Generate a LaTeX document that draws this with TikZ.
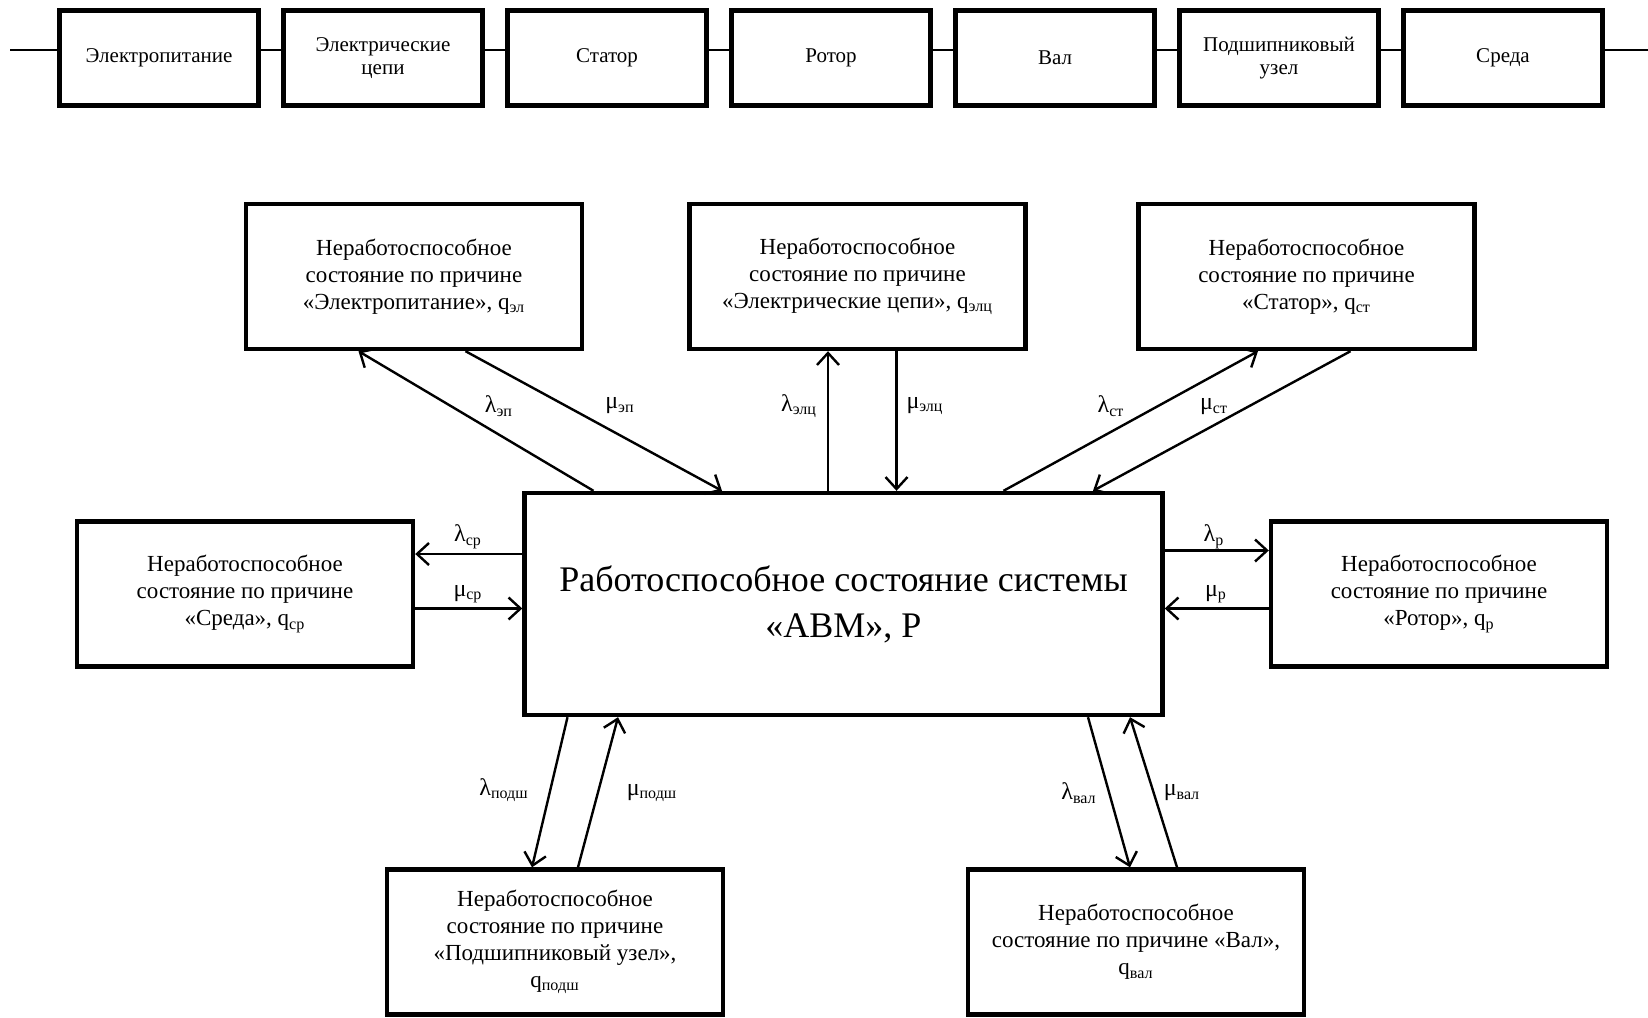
\documentclass[tikz,border=0pt]{standalone}
\usepackage{fontspec}
\setmainfont{Liberation Serif}
\usetikzlibrary{arrows.meta}
\usetikzlibrary{calc}

\begin{document}
\begin{tikzpicture}[x=0.5pt,y=-0.5pt, font=\fontsize{11.5}{13.4}\selectfont,
    part/.style={draw,line width=2.2pt,minimum width=99.5pt,minimum height=47.5pt,inner sep=0pt,align=center,font=\fontsize{10.5}{11.5}\selectfont},
    state/.style={draw,line width=2.2pt,minimum width=168pt,minimum height=72.5pt,inner sep=0pt,align=center},
    flow/.style={line width=1.2pt,-{Straight Barb[length=6pt,width=11pt]}},
    link/.style={line width=0.8pt},
    rate/.style={inner sep=0pt,font=\fontsize{12}{14}\selectfont}]
      \useasboundingbox (0,0) rectangle (1648,1017);

      \foreach \t [count=\i] in {Электропитание,Электрические\\цепи,Статор,Ротор,Вал,Подшипниковый\\узел,Среда}
        \node[part] (b\i) at (224*\i-65,58) {\t};
      \foreach \i [evaluate=\i as \j using int(\i+1)] in {1,...,6}
        \draw[link] ([yshift=4pt]b\i.east) -- ([yshift=4pt]b\j.west);
      \coordinate (feed) at (10,50);
      \coordinate (sink) at (1648,50);
      \draw[link] (feed) -- ([yshift=4pt]b1.west);
      \draw[link] ([yshift=4pt]b7.east) -- (sink);

      \node[state,minimum width=319pt,minimum height=111pt,font=\fontsize{18}{23}\selectfont] (avm) at (843.5,604) {Работоспособное состояние системы\\«АВМ», P};
      \node[state] (ep) at (414,276.5) {Неработоспособное\\состояние по причине\\«Электропитание», q\textsubscript{эл}};
      \node[state] (elc) at (857.5,276.5) {Неработоспособное\\состояние по причине\\«Электрические цепи», q\textsubscript{элц}};
      \node[state] (st) at (1306.5,276.5) {Неработоспособное\\состояние по причине\\«Статор», q\textsubscript{ст}};
      \node[state] (sr) at (245,594) {Неработоспособное\\состояние по причине\\«Среда», q\textsubscript{ср}};
      \node[state] (rt) at (1439,594) {Неработоспособное\\состояние по причине\\«Ротор», q\textsubscript{р}};
      \node[state] (pd) at (555,942) {Неработоспособное\\состояние по причине\\«Подшипниковый узел»,\\q\textsubscript{подш}};
      \node[state] (vl) at (1136,942) {Неработоспособное\\состояние по причине «Вал»,\\q\textsubscript{вал}};

      \draw[flow] ($(avm.north)+(-250,0)$) -- ($(ep.south)+(-55.5,0)$);
      \draw[flow] ($(ep.south)+(51.5,0)$) -- ($(avm.north)+(-121.5,0)$);
      \draw[flow] ($(avm.north)+(-15.5,0)$) -- ($(elc.south)+(-29.5,0)$);
      \draw[flow] ($(elc.south)+(39,0)$) -- ($(avm.north)+(53,0)$);
      \draw[flow] ($(avm.north)+(160,0)$) -- ($(st.south)+(-48.5,0)$);
      \draw[flow] ($(st.south)+(44,0)$) -- ($(avm.north)+(249.5,0)$);
      \draw[flow] ($(avm.west)+(0,-50)$) -- ($(sr.east)+(0,-40)$);
      \draw[flow] ($(sr.east)+(0,14.5)$) -- ($(avm.west)+(0,4.5)$);
      \draw[flow] ($(avm.east)+(0,-53.5)$) -- ($(rt.west)+(0,-43.5)$);
      \draw[flow] ($(rt.west)+(0,14.5)$) -- ($(avm.east)+(0,4.5)$);
      \draw[flow] ($(avm.south)+(-276,0)$) -- ($(pd.north)+(-23,0)$);
      \draw[flow] ($(pd.north)+(23,0)$) -- ($(avm.south)+(-225.5,0)$);
      \draw[flow] ($(avm.south)+(244.5,0)$) -- ($(vl.north)+(-6,0)$);
      \draw[flow] ($(vl.north)+(41,0)$) -- ($(avm.south)+(286.5,0)$);

      \node[rate] (lep) at (499,406) {λ\textsubscript{эп}};
      \node[rate] (mep) at (620,406) {μ\textsubscript{эп}};
      \node[rate] (lelc) at (799,406) {λ\textsubscript{элц}};
      \node[rate] (melc) at (925,406) {μ\textsubscript{элц}};
      \node[rate] (lst) at (1111,406) {λ\textsubscript{ст}};
      \node[rate] (mst) at (1214,407) {μ\textsubscript{ст}};
      \node[rate] (lsr) at (468,537) {λ\textsubscript{ср}};
      \node[rate] (msr) at (468,594) {μ\textsubscript{ср}};
      \node[rate] (lrt) at (1214,537) {λ\textsubscript{р}};
      \node[rate] (mrt) at (1216,594) {μ\textsubscript{р}};
      \node[rate] (lpd) at (504,790) {λ\textsubscript{подш}};
      \node[rate] (mpd) at (652,793) {μ\textsubscript{подш}};
      \node[rate] (lvl) at (1079,793) {λ\textsubscript{вал}};
      \node[rate] (mvl) at (1182,793) {μ\textsubscript{вал}};
    \end{tikzpicture}
\end{document}
